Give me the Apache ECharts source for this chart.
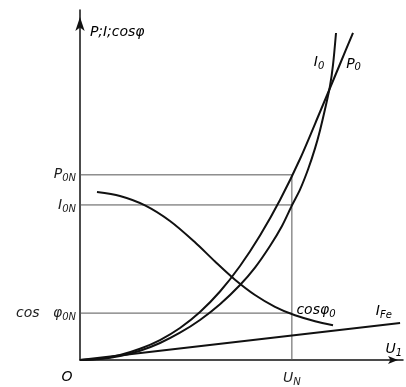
<!DOCTYPE html>
<html><head><meta charset="utf-8">
<script src="https://cdn.jsdelivr.net/npm/echarts@6/dist/echarts.min.js"></script>
<style>html,body{margin:0;padding:0;background:#fff}#c{width:406px;height:387px}</style>
</head><body><div id="c"></div>
<script>
// curve data (x = U1 in arbitrary units 0..100, y in arbitrary units 0..100)
const P0 = [[0,0],[6.19,0.34],[12.38,1.43],[18.58,3.21],[24.77,5.71],[30.96,9.14],[37.15,13.71],[43.34,19.57],[49.54,26.86],[55.73,35.57],[61.92,45.71],[68.11,57.43],[74.30,70.86],[80.50,84.57],[84.52,93.49]];
const I0 = [[0,0],[6.19,0.29],[12.38,1.14],[18.58,2.64],[24.77,4.86],[30.96,7.79],[37.15,11.43],[43.34,15.93],[49.54,21.43],[54.18,26.4],[58.82,32.57],[62.54,38.29],[65.63,44.2],[68.11,48.69],[70.59,54.43],[72.76,60.46],[74.30,65.6],[75.85,71.63],[77.40,78.29],[78.33,84.29],[79.26,93.43]];
const COS0 = [[5.26,48.0],[12.38,46.86],[20.12,44.17],[27.86,39.71],[35.60,33.63],[41.80,28.14],[47.99,22.94],[54.18,18.57],[60.37,15.2],[66.56,12.77],[72.76,11.06],[78.33,9.91]];
const IFE = [[0,0],[99.1,10.6]];
// reference levels
const UN = 65.6, P0N = 52.9, I0N = 44.3, COS0N = 13.4;
// tick labels
const yTickValues = [COS0N, I0N, P0N];
const yTickLabels = ['{m|cos   φ}{s|0N}', '{m|I}{s|0N}', '{m|P}{s|0N}'];
const xTickValues = [UN];
const xTickLabels = ['{m|U}{s|N}'];
// free labels: [text, x, y, align]
const curveLabels = [
  ['{m|P;I;cosφ}', 3.1, 93.7, 'left'],
  ['{m|I}{s|0}', 72.4, 85.0, 'left'],
  ['{m|P}{s|0}', 82.4, 84.6, 'left'],
  ['{m|cosφ}{s|0}', 67.0, 14.2, 'left'],
  ['{m|I}{s|Fe}', 91.6, 13.8, 'left'],
  ['{m|U}{s|1}', 94.6, 2.9, 'left'],
  ['{m|O}', -4.0, -4.9, 'center']
];

const FF = '"DejaVu Sans", sans-serif';
const rich = {
  m: {fontSize: 14, fontStyle: 'italic', fontFamily: FF, color: '#222'},
  s: {fontSize: 10, fontStyle: 'italic', fontFamily: FF, color: '#222', padding: [8, 0, 0, 0]}
};

const chart = echarts.init(document.getElementById('c'), null, {renderer: 'canvas'});
const curveStyle = {color: '#111', width: 2};
const refStyle = {color: '#555', width: 1};
function curve(data) {
  return {type: 'line', data: data, smooth: 0.3, symbol: 'none', lineStyle: curveStyle, silent: true, animation: false};
}
function ref(data) {
  return {type: 'line', data: data, symbol: 'none', lineStyle: refStyle, silent: true, animation: false};
}
chart.setOption({
  animation: false,
  grid: {left: 80, right: 3, top: 10, bottom: 27},
  xAxis: {
    type: 'value', min: 0, max: 100,
    splitLine: {show: false}, axisTick: {show: false},
    axisLine: {lineStyle: {color: '#111', width: 1.5}, symbol: ['none', 'arrow'], symbolSize: [6, 10], symbolOffset: [0, -5]},
    axisLabel: {customValues: xTickValues, margin: 9,
      formatter: function (v) { const i = xTickValues.indexOf(v); return i >= 0 ? xTickLabels[i] : ''; }, rich: rich}
  },
  yAxis: {
    type: 'value', min: 0, max: 100,
    splitLine: {show: false}, axisTick: {show: false},
    axisLine: {lineStyle: {color: '#111', width: 1.5}, symbol: ['none', 'arrow'], symbolSize: [7, 14], symbolOffset: [0, -7]},
    axisLabel: {customValues: yTickValues, margin: 4,
      formatter: function (v) { const i = yTickValues.indexOf(v); return i >= 0 ? yTickLabels[i] : ''; }, rich: rich}
  },
  series: [
    ref([[0, P0N], [UN, P0N]]),
    ref([[0, I0N], [UN, I0N]]),
    ref([[0, COS0N], [UN, COS0N]]),
    ref([[UN, 0], [UN, P0N]]),
    curve(P0), curve(I0), curve(COS0), curve(IFE)
  ]
});
const g = curveLabels.map(function (l) {
  const p = chart.convertToPixel({gridIndex: 0}, [l[1], l[2]]);
  return {type: 'text', x: p[0], y: p[1], silent: true,
    style: {text: l[0], rich: rich, align: l[3], verticalAlign: 'middle'}};
});
chart.setOption({graphic: g});
</script></body></html>
